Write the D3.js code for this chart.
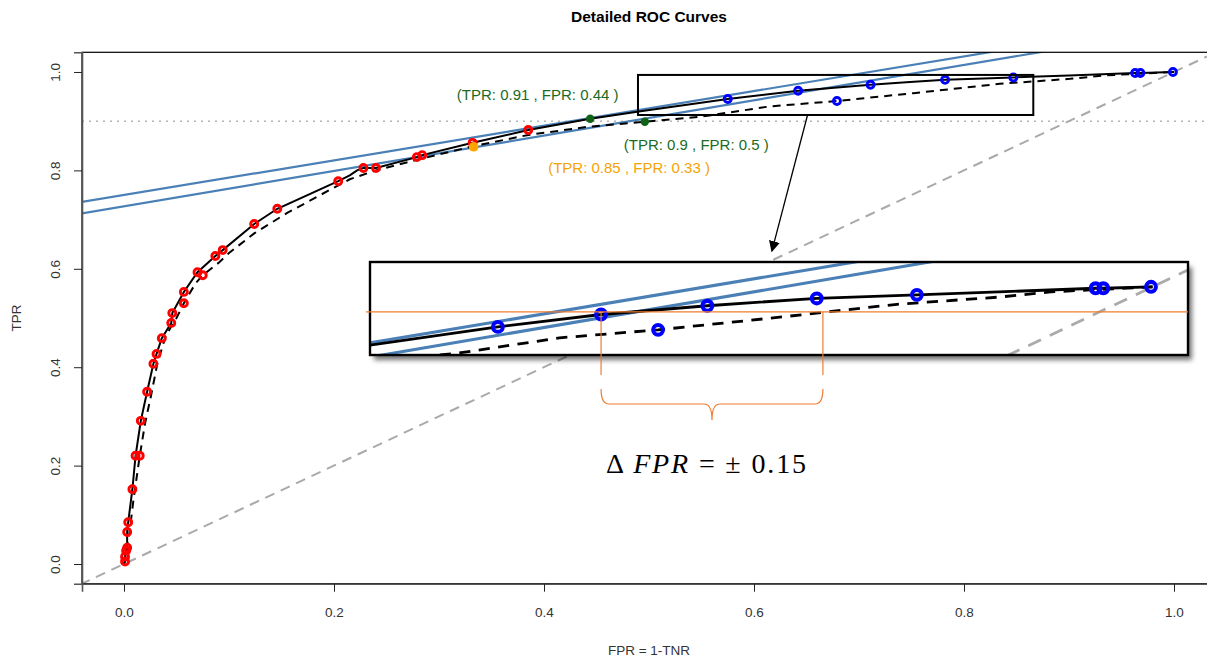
<!DOCTYPE html>
<html>
<head>
<meta charset="utf-8">
<script src="https://cdn.jsdelivr.net/npm/d3@7"></script>
<style>
  body { margin: 0; background: #fff; }
  text { font-family: "Liberation Sans", Arial, sans-serif; }
</style>
</head>
<body>
<div id="plot"></div>
<script>
// ticks
var xTicks = [0, 0.2, 0.4, 0.6, 0.8, 1.0];
var yTicks = [0, 0.2, 0.4, 0.6, 0.8, 1.0];

// solid ROC curve (fpr / tpr)
var solidFpr = [0, 0.001, 0.001, 0.002, 0.003, 0.003, 0.004, 0.008, 0.011, 0.016, 0.022, 0.028, 0.031, 0.036, 0.045, 0.046, 0.057, 0.070, 0.087, 0.094, 0.124, 0.146, 0.204, 0.215, 0.222, 0.228, 0.240, 0.279, 0.284, 0.332, 0.385, 0.444, 0.492, 0.575, 0.642, 0.711, 0.745, 0.782, 0.847, 0.900, 0.963, 0.968, 0.999, 1.0];
var solidTpr = [0, 0.005, 0.015, 0.027, 0.033, 0.065, 0.085, 0.152, 0.220, 0.291, 0.350, 0.407, 0.427, 0.459, 0.490, 0.510, 0.553, 0.593, 0.626, 0.638, 0.691, 0.722, 0.778, 0.790, 0.800, 0.805, 0.805, 0.827, 0.831, 0.856, 0.882, 0.905, 0.920, 0.945, 0.962, 0.974, 0.979, 0.984, 0.989, 0.993, 0.998, 0.998, 1.0, 1.0];

// dashed ROC curve
var dashedFpr = [0, 0.002, 0.005, 0.009, 0.015, 0.020, 0.026, 0.032, 0.040, 0.050, 0.057, 0.068, 0.075, 0.090, 0.100, 0.124, 0.155, 0.187, 0.215, 0.240, 0.280, 0.330, 0.385, 0.440, 0.496, 0.549, 0.615, 0.679, 0.752, 0.834, 0.901, 0.934, 1.0];
var dashedTpr = [0, 0.020, 0.060, 0.130, 0.220, 0.285, 0.345, 0.410, 0.465, 0.500, 0.530, 0.570, 0.587, 0.612, 0.632, 0.672, 0.713, 0.750, 0.782, 0.800, 0.822, 0.848, 0.872, 0.888, 0.899, 0.909, 0.930, 0.941, 0.957, 0.976, 0.986, 0.993, 1.0];

// threshold markers
var redFpr = [0.001, 0.001, 0.002, 0.003, 0.003, 0.004, 0.008, 0.011, 0.015, 0.016, 0.022, 0.028, 0.031, 0.036, 0.045, 0.046, 0.057, 0.057, 0.070, 0.075, 0.087, 0.094, 0.124, 0.146, 0.204, 0.228, 0.240, 0.279, 0.284, 0.332, 0.385];
var redTpr = [0.005, 0.015, 0.027, 0.033, 0.065, 0.085, 0.152, 0.220, 0.220, 0.291, 0.350, 0.407, 0.427, 0.459, 0.490, 0.510, 0.553, 0.530, 0.593, 0.587, 0.626, 0.638, 0.691, 0.722, 0.778, 0.805, 0.805, 0.827, 0.831, 0.856, 0.882];
var blueFpr = [0.575, 0.642, 0.679, 0.711, 0.782, 0.847, 0.963, 0.968, 0.999];
var blueTpr = [0.945, 0.962, 0.941, 0.974, 0.984, 0.989, 0.998, 0.998, 1.0];

// tangent lines  tpr = a + b * fpr
var tangentA = [0.750, 0.727];
var tangentB = [0.352, 0.359];

// highlighted operating points and their labels
var hlFpr = [0.444, 0.496, 0.333];
var hlTpr = [0.905, 0.899, 0.848];
var hlLabels = ["(TPR: 0.91 , FPR: 0.44 )", "(TPR: 0.9 , FPR: 0.5 )", "(TPR: 0.85 , FPR: 0.33 )"];
var hlLabelFpr = [0.394, 0.545, 0.481];
var hlLabelTpr = [0.953, 0.853, 0.805];
var hlColors = ["#1b6b22", "#1b6b22", "#f5a300"];

// zoom box in main plot, and inset window
var zoomFpr = [0.4895, 0.866], zoomTpr = [0.9126, 0.994];
var insetFpr = [0.492, 1.023], insetTpr = [0.9065, 1.034];
var refTpr = 0.9656;
var braceFpr = [0.642, 0.786];
var cutoffTpr = 0.9;

var width = 1207, height = 659;

var x = d3.scaleLinear().domain([-0.04, 1.04]).range([82, 1216]);
var y = d3.scaleLinear().domain([-0.04, 1.04]).range([583.7, 52.3]);

// inset occupies its own pixel window
var xi = d3.scaleLinear().domain(insetFpr).range([370, 1188]);
var yi = d3.scaleLinear().domain(insetTpr).range([355, 262]);

var svg = d3.select("#plot").append("svg")
    .attr("width", width)
    .attr("height", height);

var defs = svg.append("defs");
defs.append("clipPath").attr("id", "clipMain")
    .append("rect")
    .attr("x", x(-0.04)).attr("y", y(1.04))
    .attr("width", x(1.04) - x(-0.04)).attr("height", y(-0.04) - y(1.04));
defs.append("clipPath").attr("id", "clipInset")
    .append("rect")
    .attr("x", xi(insetFpr[0])).attr("y", yi(insetTpr[1]))
    .attr("width", xi(insetFpr[1]) - xi(insetFpr[0])).attr("height", yi(insetTpr[0]) - yi(insetTpr[1]));
var shadow = defs.append("filter").attr("id", "shadow")
    .attr("x", "-5%").attr("y", "-20%").attr("width", "115%").attr("height", "150%");
shadow.append("feDropShadow").attr("dx", 4).attr("dy", 5).attr("stdDeviation", 2.5)
    .attr("flood-color", "#000").attr("flood-opacity", 0.55);
defs.append("marker").attr("id", "arrow")
    .attr("viewBox", "0 0 10 10").attr("refX", 9).attr("refY", 5)
    .attr("markerWidth", 11).attr("markerHeight", 11).attr("markerUnits", "userSpaceOnUse")
    .attr("orient", "auto")
    .append("path").attr("d", "M0,0 L10,5 L0,10 z").attr("fill", "#000");

var zip = (a, b) => a.map((v, i) => [v, b[i]]);

// draws the whole ROC content with a given pair of scales and a size factor
function drawContent(g, sx, sy, k) {
    // chance diagonal
    g.append("line")
        .attr("x1", sx(-0.1)).attr("y1", sy(-0.1))
        .attr("x2", sx(1.1)).attr("y2", sy(1.1))
        .attr("stroke", "#aaaaaa").attr("stroke-width", 2 * k)
        .attr("stroke-dasharray", `${10 * k},${7 * k}`);

    // tangent lines
    tangentA.forEach(function(a, i) {
        g.append("line")
            .attr("x1", sx(-0.1)).attr("y1", sy(a + tangentB[i] * -0.1))
            .attr("x2", sx(1.1)).attr("y2", sy(a + tangentB[i] * 1.1))
            .attr("stroke", "#4a80b6").attr("stroke-width", 2.2 * k);
    });

    var line = d3.line().x(d => sx(d[0])).y(d => sy(d[1]));

    g.append("path").datum(zip(dashedFpr, dashedTpr))
        .attr("d", line).attr("fill", "none")
        .attr("stroke", "#000").attr("stroke-width", 2 * k)
        .attr("stroke-dasharray", `${8 * k},${6 * k}`);
    g.append("path").datum(zip(solidFpr, solidTpr))
        .attr("d", line).attr("fill", "none")
        .attr("stroke", "#000").attr("stroke-width", 2 * k);

    g.selectAll(".red").data(zip(redFpr, redTpr)).enter()
        .append("circle")
        .attr("cx", d => sx(d[0])).attr("cy", d => sy(d[1]))
        .attr("r", 3.5 * k).attr("fill", "none")
        .attr("stroke", "#ff0000").attr("stroke-width", 2.9 * k);
    g.selectAll(".blue").data(zip(blueFpr, blueTpr)).enter()
        .append("circle")
        .attr("cx", d => sx(d[0])).attr("cy", d => sy(d[1]))
        .attr("r", 3.5 * k).attr("fill", "none")
        .attr("stroke", "#0000ff").attr("stroke-width", 2.9 * k);

    hlFpr.forEach(function(f, i) {
        g.append("circle")
            .attr("cx", sx(f)).attr("cy", sy(hlTpr[i]))
            .attr("r", (i == 2 ? 4.8 : 4.2) * k)
            .attr("fill", i == 2 ? "#ffa500" : "#0e6414");
    });
}

// title
svg.append("text")
    .attr("x", (x(-0.04) + x(1.04)) / 2).attr("y", 22)
    .attr("text-anchor", "middle")
    .style("font-size", "15.5px").style("font-weight", "bold")
    .text("Detailed ROC Curves");

// main plot content
var main = svg.append("g").attr("clip-path", "url(#clipMain)");

main.append("line")
    .attr("x1", x(-0.04)).attr("x2", x(1.04))
    .attr("y1", y(cutoffTpr)).attr("y2", y(cutoffTpr))
    .attr("stroke", "#b4b4b4").attr("stroke-width", 1.6)
    .attr("stroke-dasharray", "2,5");

drawContent(main, x, y, 1);

// labels of highlighted points
hlLabels.forEach(function(t, i) {
    svg.append("text")
        .attr("x", x(hlLabelFpr[i])).attr("y", y(hlLabelTpr[i]))
        .attr("dy", "0.35em")
        .attr("text-anchor", "middle")
        .style("font-size", "15px")
        .attr("fill", hlColors[i])
        .text(t);
});

// zoom rectangle
svg.append("rect")
    .attr("x", x(zoomFpr[0])).attr("y", y(zoomTpr[1]))
    .attr("width", x(zoomFpr[1]) - x(zoomFpr[0]))
    .attr("height", y(zoomTpr[0]) - y(zoomTpr[1]))
    .attr("fill", "none").attr("stroke", "#000").attr("stroke-width", 2);

// arrow from zoom box to inset
svg.append("line")
    .attr("x1", x(0.651)).attr("y1", y(zoomTpr[0]))
    .attr("x2", x(0.617)).attr("y2", y(0.636))
    .attr("stroke", "#000").attr("stroke-width", 1.3)
    .attr("marker-end", "url(#arrow)");

// frame and axes
svg.append("rect")
    .attr("x", x(-0.04)).attr("y", y(1.04))
    .attr("width", x(1.04) - x(-0.04)).attr("height", y(-0.04) - y(1.04))
    .attr("fill", "none").attr("stroke", "#000").attr("stroke-width", 1.2);

var xAxis = svg.append("g")
    .attr("transform", `translate(0, ${y(-0.04)})`)
    .call(d3.axisBottom(x).tickValues(xTicks).tickFormat(d3.format(".1f")).tickSize(8).tickPadding(16));
var yAxis = svg.append("g")
    .attr("transform", `translate(${x(-0.04)}, 0)`)
    .call(d3.axisLeft(y).tickValues(yTicks).tickFormat(d3.format(".1f")).tickSize(8));

[xAxis, yAxis].forEach(function(a) {
    a.select(".domain").attr("stroke", "#555").attr("stroke-width", 1.6);
    a.selectAll(".tick line").attr("stroke", "#222");
    a.selectAll(".tick text")
        .style("font-size", "13.5px")
        .style("font-family", "'Liberation Sans', Arial, sans-serif")
        .attr("fill", "#333");
});
// R style: y tick labels run parallel to the axis
yAxis.selectAll(".tick text")
    .attr("x", 0).attr("y", 0)
    .attr("dy", "0.35em")
    .attr("text-anchor", "middle")
    .attr("transform", "translate(-27, 0) rotate(-90)");

svg.append("text")
    .attr("x", (x(-0.04) + x(1.04)) / 2).attr("y", 655)
    .attr("text-anchor", "middle")
    .style("font-size", "13.5px").attr("fill", "#333")
    .text("FPR = 1-TNR");
svg.append("text")
    .attr("transform", `translate(21, ${(y(-0.04) + y(1.04)) / 2}) rotate(-90)`)
    .attr("text-anchor", "middle")
    .style("font-size", "13.5px").attr("fill", "#333")
    .text("TPR");

// inset magnified view
svg.append("rect")
    .attr("x", xi(insetFpr[0])).attr("y", yi(insetTpr[1]))
    .attr("width", xi(insetFpr[1]) - xi(insetFpr[0]))
    .attr("height", yi(insetTpr[0]) - yi(insetTpr[1]))
    .attr("fill", "#fff")
    .attr("filter", "url(#shadow)");

var inset = svg.append("g").attr("clip-path", "url(#clipInset)");
drawContent(inset, xi, yi, 1.4);

svg.append("rect")
    .attr("x", xi(insetFpr[0])).attr("y", yi(insetTpr[1]))
    .attr("width", xi(insetFpr[1]) - xi(insetFpr[0]))
    .attr("height", yi(insetTpr[0]) - yi(insetTpr[1]))
    .attr("fill", "none").attr("stroke", "#000").attr("stroke-width", 2.4);

// delta FPR annotation
var orange = "#ed7d31";
svg.append("line")
    .attr("x1", xi(insetFpr[0]) - 4).attr("x2", xi(insetFpr[1]))
    .attr("y1", yi(refTpr)).attr("y2", yi(refTpr))
    .attr("stroke", orange).attr("stroke-width", 1.2);

var yBottom = yi(insetTpr[0]);
braceFpr.forEach(function(f) {
    svg.append("line")
        .attr("x1", xi(f)).attr("x2", xi(f))
        .attr("y1", yi(refTpr)).attr("y2", yBottom + 20)
        .attr("stroke", orange).attr("stroke-width", 1.2);
});

var bx1 = xi(braceFpr[0]), bx2 = xi(braceFpr[1]), bm = (bx1 + bx2) / 2;
var b0 = yBottom + 34, b1 = yBottom + 49, b2 = yBottom + 65;
svg.append("path")
    .attr("d", `M${bx1},${b0} Q${bx1},${b1} ${bx1 + 8},${b1} L${bm - 8},${b1} Q${bm},${b1} ${bm},${b2} ` +
               `Q${bm},${b1} ${bm + 8},${b1} L${bx2 - 8},${b1} Q${bx2},${b1} ${bx2},${b0}`)
    .attr("fill", "none").attr("stroke", orange).attr("stroke-width", 1.2);

var delta = svg.append("text")
    .attr("x", bm - 106).attr("y", yBottom + 118)
    .attr("textLength", 200).attr("lengthAdjust", "spacing")
    .style("font-family", "'Liberation Serif', 'DejaVu Serif', serif")
    .style("font-size", "28px").attr("fill", "#000");
delta.append("tspan").text("\u0394 ");
delta.append("tspan").style("font-style", "italic").text("FPR");
delta.append("tspan").text(" = \u00b1 0.15");
</script>
</body>
</html>
